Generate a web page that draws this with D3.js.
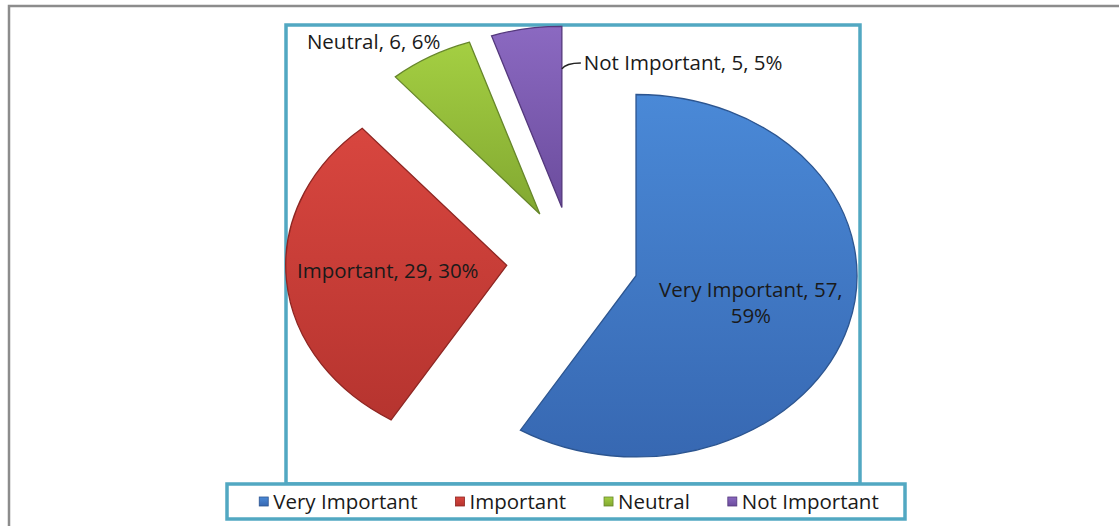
<!DOCTYPE html>
<html>
<head>
<meta charset="utf-8">
<script src="https://cdn.jsdelivr.net/npm/d3@7"></script>
<style>
  html, body { margin: 0; padding: 0; background: #fff; }
  svg { display: block; }
  text { font-family: "Open Sans", "Noto Sans", sans-serif; }
</style>
</head>
<body>
<svg id="chart" width="1119" height="526"></svg>
<script>
// ---- data ----
const categories = ["Very Important", "Important", "Neutral", "Not Important"];
const values = [57, 29, 6, 5];
const percents = [59, 30, 6, 5];

// ---- styles ----
const colorsTop = ["#4a89d7", "#d8463f", "#a4cf42", "#8b69c1"];
const colorsBottom = ["#3768b2", "#b6342f", "#82a831", "#6b4c9d"];
const colorsEdge = ["#2c5590", "#8e2622", "#66862a", "#54387c"];

const W = 1119, H = 526;
const svg = d3.select("#chart");

// outer gray frame
svg.append("rect").attr("x", 9).attr("y", 6).attr("width", W + 20).attr("height", H + 20)
  .attr("fill", "#fff").attr("stroke", "#8c8c8c").attr("stroke-width", 2.5);

// plot frame
const frame = {x: 286, y: 25, w: 574, h: 459};
svg.append("rect").attr("x", frame.x).attr("y", frame.y).attr("width", frame.w).attr("height", frame.h)
  .attr("fill", "#fff").attr("stroke", "#52a8c2").attr("stroke-width", 3.5);

// gradients
const defs = svg.append("defs");
categories.forEach((c, i) => {
  const g = defs.append("linearGradient").attr("id", "g" + i)
    .attr("x1", 0).attr("y1", 0).attr("x2", 0).attr("y2", 1);
  g.append("stop").attr("offset", "0%").attr("stop-color", colorsTop[i]);
  g.append("stop").attr("offset", "100%").attr("stop-color", colorsBottom[i]);
});

// pie geometry
const cx = 572.5, cy = 261;
const rx = 221, k = 0.82;
const explode = 66;

const pie = d3.pie().sort(null).value(d => d)(values);
const arc = d3.arc().innerRadius(0).outerRadius(rx);

const pieG = svg.append("g").attr("transform", `translate(${cx},${cy}) scale(1,${k})`);
pie.forEach((p, i) => {
  const mid = (p.startAngle + p.endAngle) / 2;
  const ox = explode * Math.sin(mid), oy = -explode * Math.cos(mid);
  pieG.append("path")
    .attr("d", arc(p))
    .attr("transform", `translate(${ox},${oy})`)
    .attr("fill", `url(#g${i})`)
    .attr("stroke", colorsEdge[i])
    .attr("stroke-width", 1.3)
    .attr("vector-effect", "non-scaling-stroke");
});

// screen position of a point at angle a, radius fraction f, for slice p
function pt(p, a, f) {
  const mid = (p.startAngle + p.endAngle) / 2;
  const ox = explode * Math.sin(mid), oy = -explode * Math.cos(mid);
  return [cx + ox + rx * f * Math.sin(a), cy + (oy - rx * f * Math.cos(a)) * k];
}

const fs = 20.5;
const labelColor = "#1a1a1a";
const labelText = i => `${categories[i]}, ${values[i]}, ${percents[i]}%`;

// inside labels
{
  const p = pie[0];
  const [x, y] = pt(p, (p.startAngle + p.endAngle) / 2, 0.54);
  svg.append("text").attr("x", x).attr("y", y - 5).attr("text-anchor", "middle")
    .attr("font-size", fs).attr("fill", labelColor).text(`${categories[0]}, ${values[0]},`);
  svg.append("text").attr("x", x).attr("y", y + 21).attr("text-anchor", "middle")
    .attr("font-size", fs).attr("fill", labelColor).text(`${percents[0]}%`);
}
{
  const p = pie[1];
  const [x, y] = pt(p, (p.startAngle + p.endAngle) / 2, 0.54);
  svg.append("text").attr("x", x).attr("y", y + 5).attr("text-anchor", "middle")
    .attr("font-size", fs).attr("fill", labelColor).text(labelText(1));
}
// outside labels
{
  const p = pie[2];
  const [x, y] = pt(p, (p.startAngle + p.endAngle) / 2, 1);
  svg.append("text").attr("x", x + 10).attr("y", y - 8).attr("text-anchor", "end")
    .attr("font-size", fs).attr("fill", labelColor).text(labelText(2));
}
{
  const p = pie[3];
  const [ex, ey] = pt(p, p.endAngle, 0.765);
  svg.append("path")
    .attr("d", `M${ex},${ey} Q${ex + 4},${ey - 6} ${ex + 19},${ey - 6}`)
    .attr("fill", "none").attr("stroke", "#222").attr("stroke-width", 1.4);
  svg.append("text").attr("x", ex + 22).attr("y", ey + 1).attr("text-anchor", "start")
    .attr("font-size", fs).attr("fill", labelColor).text(labelText(3));
}

// legend
const leg = {x: 227, y: 484, w: 678, h: 35};
svg.append("rect").attr("x", leg.x).attr("y", leg.y).attr("width", leg.w).attr("height", leg.h)
  .attr("fill", "#fff").attr("stroke", "#52a8c2").attr("stroke-width", 3.5);

const legG = svg.append("g");
const ly = leg.y + leg.h / 2;
const itemGap = 38, markerSize = 9, markerPad = 5;
let lx = 0;
categories.forEach((c, i) => {
  legG.append("rect").attr("x", lx).attr("y", ly - markerSize / 2).attr("width", markerSize).attr("height", markerSize)
    .attr("fill", `url(#g${i})`).attr("stroke", colorsEdge[i]).attr("stroke-width", 0.8);
  const t = legG.append("text").attr("x", lx + markerSize + markerPad).attr("y", ly + 7)
    .attr("font-size", fs).attr("fill", "#1a1a1a").text(c);
  lx += markerSize + markerPad + t.node().getComputedTextLength() + itemGap;
});
const totalW = lx - itemGap;
legG.attr("transform", `translate(${leg.x + (leg.w - totalW) / 2 + 3},0)`);
</script>
</body>
</html>
